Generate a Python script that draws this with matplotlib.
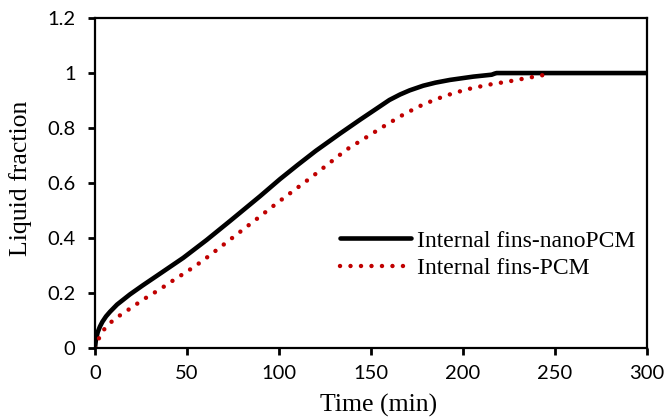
import matplotlib
matplotlib.use("Agg")
import matplotlib.pyplot as plt

t_nano = [0, 0.5, 1.5, 2.7, 4, 6, 8.2, 12, 19, 26, 33.5, 48, 60.7, 73.4, 89.7,
          100.5, 110, 120, 133.2, 144, 154.9, 160, 165.8, 171, 178.4, 185, 192.9,
          205.6, 215.6, 217.2, 218.3, 250, 300]
lf_nano = [0, 0.03, 0.058, 0.078, 0.095, 0.115, 0.132, 0.158, 0.195, 0.228, 0.262,
           0.328, 0.393, 0.462, 0.552, 0.614, 0.665, 0.717, 0.78, 0.83, 0.879, 0.902,
           0.922, 0.937, 0.954, 0.965, 0.975, 0.987, 0.994, 0.998, 1.0, 1.0, 1.0]

t_pcm = [0, 2.4, 5.4, 10, 14.9, 19.9, 24.8, 29.9, 35, 40.2, 45.3, 50.2, 55.3, 60.2,
         69.7, 88.8, 98.7, 117.8, 125, 136.8, 147.6, 157.6, 168.1, 178.4, 190.2,
         201.6, 213.4, 225.2, 230, 243.1, 245]
lf_pcm = [0, 0.039, 0.072, 0.102, 0.125, 0.147, 0.170, 0.192, 0.212, 0.236, 0.258,
          0.279, 0.302, 0.326, 0.375, 0.474, 0.526, 0.622, 0.66, 0.722, 0.767, 0.809,
          0.851, 0.886, 0.917, 0.940, 0.957, 0.970, 0.976, 0.992, 0.995]

xticks = [0, 50, 100, 150, 200, 250, 300]
yticks = [0, 0.2, 0.4, 0.6, 0.8, 1, 1.2]
yticklabels = ["0", "0.2", "0.4", "0.6", "0.8", "1", "1.2"]

fig = plt.figure(figsize=(6.67, 4.2), dpi=100)
ax = fig.add_axes([0.1424, 0.1714, 0.8276, 0.7856])

ax.plot(t_nano, lf_nano, color="black", lw=3.3, solid_capstyle="round",
        solid_joinstyle="round", label="Internal fins-nanoPCM")
ax.plot(t_pcm, lf_pcm, color="#C00000", lw=3.2, linestyle=(0, (0.01, 2.35)),
        dash_capstyle="round", label="Internal fins-PCM")

ax.set_xlim(0, 300)
ax.set_ylim(0, 1.2)
ax.set_xticks(xticks)
ax.set_yticks(yticks)
ax.set_yticklabels(yticklabels)
for lab in ax.get_xticklabels() + ax.get_yticklabels():
    lab.set_family("Lato")
    lab.set_fontsize(14.5)

ax.tick_params(direction="out", length=5, width=2)
ax.tick_params(axis="x", pad=7)
ax.tick_params(axis="y", pad=9)
for s in ax.spines.values():
    s.set_linewidth(1.6)

ax.set_xlabel("Time (min)", family="Liberation Serif", fontsize=18.5)
ax.set_ylabel("Liquid fraction", family="Liberation Serif", fontsize=18.5)
ax.xaxis.set_label_coords(0.513, -0.14)
ax.yaxis.set_label_coords(-0.114, 0.515)

ax.legend(loc="upper left", bbox_to_anchor=(0.444, 0.357), frameon=False,
          borderaxespad=0, borderpad=0,
          prop={"family": "Liberation Serif", "size": 17}, handlelength=3.0,
          handletextpad=0.25, labelspacing=0.25)

fig.savefig("out.png", dpi=100)
